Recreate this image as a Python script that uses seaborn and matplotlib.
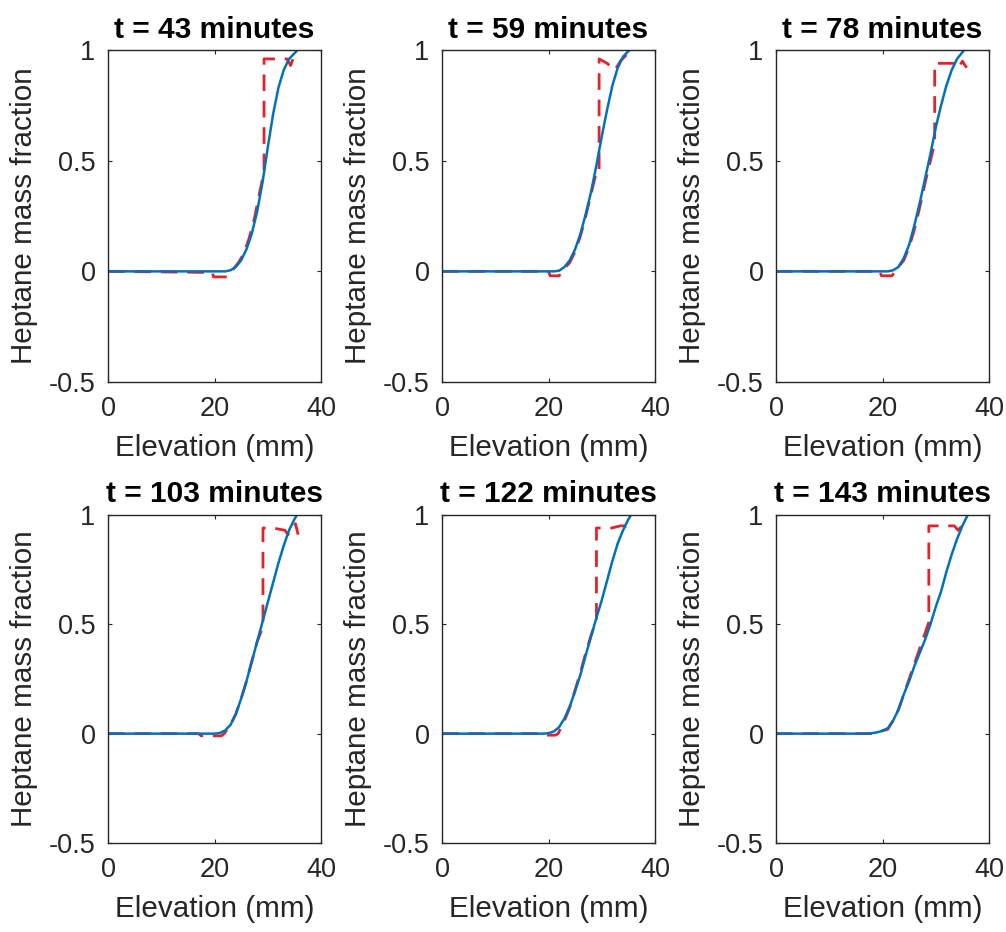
import pandas as pd
import seaborn as sns
import matplotlib.pyplot as plt

# --- data ---
TITLES = ["t = 43 minutes", "t = 59 minutes", "t = 78 minutes",
          "t = 103 minutes", "t = 122 minutes", "t = 143 minutes"]

# model curve (solid blue), shared elevation grid in mm
BLUE_X = [0, 16, 17, 18, 19, 20, 21, 22, 23, 24, 25, 26, 27, 28, 29, 30, 31, 32, 33, 34, 35, 36]
BLUE_43 = [0, 0, 0, 0, 0, 0, 0, 0, 0.005, 0.02, 0.05, 0.10, 0.17, 0.27, 0.40, 0.56, 0.71, 0.83, 0.91, 0.96, 0.985, 1.01]
BLUE_59 = [0, 0, 0, 0, 0, 0, 0, 0.003, 0.02, 0.05, 0.10, 0.17, 0.26, 0.36, 0.48, 0.61, 0.73, 0.84, 0.92, 0.97, 0.995, 1.02]
BLUE_78 = [0, 0, 0, 0, 0, 0, 0, 0.005, 0.02, 0.06, 0.12, 0.21, 0.31, 0.42, 0.53, 0.65, 0.75, 0.84, 0.91, 0.96, 0.99, 1.02]
BLUE_103 = [0, 0, 0, 0, 0, 0, 0.003, 0.015, 0.04, 0.09, 0.16, 0.24, 0.33, 0.42, 0.51, 0.60, 0.69, 0.78, 0.86, 0.93, 0.98, 1.02]
BLUE_122 = [0, 0, 0, 0, 0, 0.002, 0.01, 0.03, 0.07, 0.125, 0.195, 0.27, 0.36, 0.445, 0.53, 0.61, 0.70, 0.79, 0.87, 0.93, 0.98, 1.02]
BLUE_143 = [0, 0, 0, 0.002, 0.006, 0.013, 0.025, 0.06, 0.11, 0.18, 0.24, 0.31, 0.37, 0.43, 0.50, 0.58, 0.65, 0.74, 0.82, 0.89, 0.95, 1.0]

# measured profile (red dashed)
RED_X_43 = [0, 19.6, 19.8, 22.5, 23.2, 24.5, 25.5, 26.5, 27.5, 28.5, 29.3, 29.3, 33.6, 34.3, 35.3]
RED_Y_43 = [0, -0.005, -0.025, -0.025, 0.0, 0.04, 0.08, 0.15, 0.24, 0.36, 0.45, 0.96, 0.96, 0.93, 1.0]
RED_X_59 = [0, 20.0, 20.3, 22.0, 22.5, 24, 25, 26, 27, 28, 29, 29.5, 29.5, 31.0, 32.5, 33.5, 35.5]
RED_Y_59 = [0, 0, -0.02, -0.02, 0, 0.04, 0.09, 0.16, 0.25, 0.35, 0.45, 0.45, 0.96, 0.94, 0.91, 0.95, 1.0]
RED_X_78 = [0, 19.5, 19.8, 21.8, 22.3, 24, 25, 26, 27, 28, 29, 29.8, 29.8, 33.5, 34.3, 35.0, 35.8]
RED_Y_78 = [0, 0, -0.02, -0.02, 0, 0.05, 0.11, 0.19, 0.29, 0.40, 0.50, 0.58, 0.94, 0.94, 0.92, 0.95, 0.92]
RED_X_103 = [0, 17, 17.5, 21.3, 21.8, 23, 24, 25, 26, 27, 28, 29.1, 29.1, 31, 33.2, 33.8, 35.2, 35.7]
RED_Y_103 = [0, 0, -0.01, -0.01, 0, 0.04, 0.09, 0.16, 0.24, 0.33, 0.42, 0.49, 0.94, 0.94, 0.93, 0.91, 0.96, 0.91]
RED_X_122 = [0, 18.3, 18.6, 21.3, 21.8, 23, 24, 25, 26, 27, 28, 29.0, 29.0, 31.8, 33.5, 34.3, 34.6]
RED_Y_122 = [0, 0, -0.007, -0.007, 0, 0.06, 0.12, 0.2, 0.28, 0.37, 0.45, 0.52, 0.94, 0.94, 0.95, 0.95, 0.92]
RED_X_143 = [0, 18, 21, 22, 23, 24, 25, 26, 27, 28, 28.7, 28.7, 31.5, 33.5, 34.2, 35.3]
RED_Y_143 = [0, 0, 0.02, 0.06, 0.11, 0.18, 0.25, 0.32, 0.39, 0.46, 0.51, 0.95, 0.95, 0.95, 0.93, 0.96]

BLUE_Y = [BLUE_43, BLUE_59, BLUE_78, BLUE_103, BLUE_122, BLUE_143]
RED_X = [RED_X_43, RED_X_59, RED_X_78, RED_X_103, RED_X_122, RED_X_143]
RED_Y = [RED_Y_43, RED_Y_59, RED_Y_78, RED_Y_103, RED_Y_122, RED_Y_143]

# --- style (MATLAB-like look) ---
sns.set_theme(style="ticks")
plt.rcParams['font.family'] = ['Liberation Sans', 'DejaVu Sans']
plt.rcParams.update({
    'axes.edgecolor': '#262626', 'axes.linewidth': 1.0,
    'xtick.color': '#262626', 'ytick.color': '#262626',
    'xtick.labelcolor': '#262626', 'ytick.labelcolor': '#262626',
    'xtick.direction': 'in', 'ytick.direction': 'in',
    'xtick.top': True, 'ytick.right': True,
    'xtick.major.size': 3, 'ytick.major.size': 3,
    'xtick.major.width': 0.8, 'ytick.major.width': 0.8,
})

fig = plt.figure(figsize=(10.06, 9.32), dpi=100)
lefts = [0.1074, 0.4394, 0.7714]
rows = [(0.5901, 0.3562), (0.0955, 0.352)]

for i in range(6):
    r, c = divmod(i, 3)
    ax = fig.add_axes([lefts[c], rows[r][0], 0.2117, rows[r][1]])
    red = pd.DataFrame({'x': RED_X[i], 'y': RED_Y[i]})
    blue = pd.DataFrame({'x': BLUE_X, 'y': BLUE_Y[i]})
    sns.lineplot(data=red, x='x', y='y', ax=ax, sort=False, estimator=None,
                 color='#e3222b', linewidth=2.0, linestyle=(0, (6, 3.5)))
    sns.lineplot(data=blue, x='x', y='y', ax=ax, sort=False, estimator=None,
                 color='#0072BD', linewidth=1.8)
    ax.set_xlim(0, 40)
    ax.set_ylim(-0.5, 1)
    ax.set_xticks([0, 20, 40])
    ax.set_yticks([-0.5, 0, 0.5, 1])
    ax.set_yticklabels(['-0.5', '0', '0.5', '1'])
    ax.tick_params(axis='y', labelsize=19.5, pad=9)
    ax.tick_params(axis='x', labelsize=19.5, pad=10)
    ax.set_xlabel('Elevation (mm)', fontsize=21.3, color='#262626', labelpad=9)
    ax.set_ylabel('Heptane mass fraction', fontsize=21.3, color='#262626', labelpad=8)
    ax.set_title(TITLES[i], fontsize=21.5, fontweight='bold', color='black', pad=9)
    for s in ax.spines.values():
        s.set_visible(True)

plt.savefig('out.png', dpi=100)
plt.close()
